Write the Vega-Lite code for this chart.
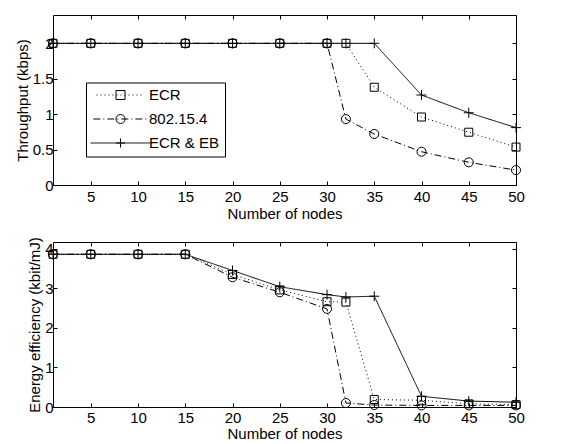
{
  "$schema": "https://vega.github.io/schema/vega-lite/v6.json",
  "padding": {"left": 14, "top": 14, "right": 10, "bottom": 5},
  "spacing": 14,
  "config": {
    "font": "Liberation Sans",
    "view": {"stroke": "black", "strokeWidth": 1},
    "axis": {
      "labelFontSize": 15, "titleFontSize": 15, "titleFontWeight": "normal",
      "labelColor": "black", "titleColor": "black", "tickColor": "black",
      "grid": false, "domain": false, "tickSize": -4, "format": "~g", "labelFlush": false
    }
  },
  "resolve": {
    "scale": {"strokeDash": "independent", "shape": "independent", "size": "independent"},
    "legend": {"strokeDash": "independent", "shape": "independent", "size": "independent"}
  },
  "datasets": {
    "tp": [
      {"x": 1, "y": 2, "series": "ECR"}, {"x": 5, "y": 2, "series": "ECR"}, {"x": 10, "y": 2, "series": "ECR"}, {"x": 15, "y": 2, "series": "ECR"}, {"x": 20, "y": 2, "series": "ECR"}, {"x": 25, "y": 2, "series": "ECR"}, {"x": 30, "y": 2, "series": "ECR"}, {"x": 32, "y": 2, "series": "ECR"}, {"x": 35, "y": 1.38, "series": "ECR"}, {"x": 40, "y": 0.96, "series": "ECR"}, {"x": 45, "y": 0.745, "series": "ECR"}, {"x": 50, "y": 0.535, "series": "ECR"},
      {"x": 1, "y": 2, "series": "802.15.4"}, {"x": 5, "y": 2, "series": "802.15.4"}, {"x": 10, "y": 2, "series": "802.15.4"}, {"x": 15, "y": 2, "series": "802.15.4"}, {"x": 20, "y": 2, "series": "802.15.4"}, {"x": 25, "y": 2, "series": "802.15.4"}, {"x": 30, "y": 2, "series": "802.15.4"}, {"x": 32, "y": 0.93, "series": "802.15.4"}, {"x": 35, "y": 0.72, "series": "802.15.4"}, {"x": 40, "y": 0.47, "series": "802.15.4"}, {"x": 45, "y": 0.32, "series": "802.15.4"}, {"x": 50, "y": 0.21, "series": "802.15.4"},
      {"x": 1, "y": 2, "series": "ECR & EB"}, {"x": 5, "y": 2, "series": "ECR & EB"}, {"x": 10, "y": 2, "series": "ECR & EB"}, {"x": 15, "y": 2, "series": "ECR & EB"}, {"x": 20, "y": 2, "series": "ECR & EB"}, {"x": 25, "y": 2, "series": "ECR & EB"}, {"x": 30, "y": 2, "series": "ECR & EB"}, {"x": 32, "y": 2, "series": "ECR & EB"}, {"x": 35, "y": 2, "series": "ECR & EB"}, {"x": 40, "y": 1.27, "series": "ECR & EB"}, {"x": 45, "y": 1.02, "series": "ECR & EB"}, {"x": 50, "y": 0.81, "series": "ECR & EB"}
    ],
    "ee": [
      {"x": 1, "y": 3.86, "series": "ECR"}, {"x": 5, "y": 3.86, "series": "ECR"}, {"x": 10, "y": 3.86, "series": "ECR"}, {"x": 15, "y": 3.86, "series": "ECR"}, {"x": 20, "y": 3.35, "series": "ECR"}, {"x": 25, "y": 2.96, "series": "ECR"}, {"x": 30, "y": 2.66, "series": "ECR"}, {"x": 32, "y": 2.65, "series": "ECR"}, {"x": 35, "y": 0.19, "series": "ECR"}, {"x": 40, "y": 0.17, "series": "ECR"}, {"x": 45, "y": 0.08, "series": "ECR"}, {"x": 50, "y": 0.06, "series": "ECR"},
      {"x": 1, "y": 3.86, "series": "802.15.4"}, {"x": 5, "y": 3.86, "series": "802.15.4"}, {"x": 10, "y": 3.86, "series": "802.15.4"}, {"x": 15, "y": 3.86, "series": "802.15.4"}, {"x": 20, "y": 3.28, "series": "802.15.4"}, {"x": 25, "y": 2.9, "series": "802.15.4"}, {"x": 30, "y": 2.48, "series": "802.15.4"}, {"x": 32, "y": 0.1, "series": "802.15.4"}, {"x": 35, "y": 0.05, "series": "802.15.4"}, {"x": 40, "y": 0.04, "series": "802.15.4"}, {"x": 45, "y": 0.04, "series": "802.15.4"}, {"x": 50, "y": 0.04, "series": "802.15.4"},
      {"x": 1, "y": 3.86, "series": "ECR & EB"}, {"x": 5, "y": 3.86, "series": "ECR & EB"}, {"x": 10, "y": 3.86, "series": "ECR & EB"}, {"x": 15, "y": 3.86, "series": "ECR & EB"}, {"x": 20, "y": 3.45, "series": "ECR & EB"}, {"x": 25, "y": 3.04, "series": "ECR & EB"}, {"x": 30, "y": 2.84, "series": "ECR & EB"}, {"x": 32, "y": 2.78, "series": "ECR & EB"}, {"x": 35, "y": 2.8, "series": "ECR & EB"}, {"x": 40, "y": 0.27, "series": "ECR & EB"}, {"x": 45, "y": 0.15, "series": "ECR & EB"}, {"x": 50, "y": 0.12, "series": "ECR & EB"}
    ]
  },
  "vconcat": [
    {
      "width": 463, "height": 170,
      "data": {"name": "tp"},
      "resolve": {"axis": {"x": "independent", "y": "independent"}},
      "layer": [
        {
          "mark": {"type": "line", "color": "black", "strokeWidth": 1},
          "encoding": {
            "x": {"field": "x", "type": "quantitative", "scale": {"domain": [1, 50], "nice": false, "zero": false},
                  "axis": {"values": [5, 10, 15, 20, 25, 30, 35, 40, 45, 50], "title": "Number of nodes", "labelPadding": 8, "titlePadding": 2}},
            "y": {"field": "y", "type": "quantitative", "scale": {"domain": [0, 2.4], "nice": false},
                  "axis": {"values": [0, 0.5, 1, 1.5, 2], "title": "Throughput (kbps)", "labelPadding": 4, "titlePadding": 2}},
            "strokeDash": {"field": "series", "type": "nominal",
              "scale": {"domain": ["ECR", "802.15.4", "ECR & EB"], "range": [[1, 3], [7, 3, 1, 3], [1, 0]]},
              "legend": {"orient": "none", "legendX": 33, "legendY": 67.5, "title": null,
                "symbolType": "M-6,0H6", "symbolSize": 81, "symbolOffset": 22, "labelOffset": 21,
                "labelFontSize": 15, "labelColor": "black", "labelLimit": 300, "padding": 5, "rowPadding": 8,
                "strokeColor": "black", "symbolStrokeColor": "black", "symbolStrokeWidth": 1}}
          }
        },
        {
          "mark": {"type": "point", "filled": false, "color": "black", "strokeWidth": 1, "opacity": 1},
          "encoding": {
            "x": {"field": "x", "type": "quantitative", "scale": {"domain": [1, 50], "nice": false, "zero": false},
                  "axis": {"orient": "top", "values": [5, 10, 15, 20, 25, 30, 35, 40, 45, 50], "labels": false, "title": null}},
            "y": {"field": "y", "type": "quantitative", "scale": {"domain": [0, 2.4], "nice": false},
                  "axis": {"orient": "right", "values": [0, 0.5, 1, 1.5, 2], "labels": false, "title": null}},
            "shape": {"field": "series", "type": "nominal", "sort": ["ECR", "802.15.4", "ECR & EB"],
              "scale": {"range": ["square", "circle", "M-1,0H1M0,-1V1"]},
              "legend": {"orient": "none", "legendX": 33, "legendY": 67.5, "title": null,
                "symbolSize": 81, "symbolOffset": 22, "labelOffset": 21,
                "labelFontSize": 15, "labelOpacity": 0, "labelLimit": 300, "padding": 5, "rowPadding": 8,
                "symbolStrokeColor": "black", "symbolFillColor": "transparent", "symbolStrokeWidth": 1}},
            "size": {"field": "series", "type": "nominal", "scale": {"domain": ["ECR", "802.15.4", "ECR & EB"], "range": [64, 100, 100]}, "legend": null}
          }
        }
      ]
    },
    {
      "width": 463, "height": 165,
      "data": {"name": "ee"},
      "resolve": {"axis": {"x": "independent", "y": "independent"}},
      "layer": [
        {
          "mark": {"type": "line", "color": "black", "strokeWidth": 1},
          "encoding": {
            "x": {"field": "x", "type": "quantitative", "scale": {"domain": [1, 50], "nice": false, "zero": false},
                  "axis": {"values": [5, 10, 15, 20, 25, 30, 35, 40, 45, 50], "title": "Number of nodes", "labelPadding": 7, "titlePadding": 1}},
            "y": {"field": "y", "type": "quantitative", "scale": {"domain": [0, 4.17], "nice": false},
                  "axis": {"values": [0, 1, 2, 3, 4], "title": "Energy efficiency (kbit/mJ)", "labelPadding": 4, "titlePadding": 2}},
            "strokeDash": {"field": "series", "type": "nominal",
              "scale": {"domain": ["ECR", "802.15.4", "ECR & EB"], "range": [[1, 3], [7, 3, 1, 3], [1, 0]]},
              "legend": null}
          }
        },
        {
          "mark": {"type": "point", "filled": false, "color": "black", "strokeWidth": 1, "opacity": 1},
          "encoding": {
            "x": {"field": "x", "type": "quantitative", "scale": {"domain": [1, 50], "nice": false, "zero": false},
                  "axis": {"orient": "top", "values": [5, 10, 15, 20, 25, 30, 35, 40, 45, 50], "labels": false, "title": null}},
            "y": {"field": "y", "type": "quantitative", "scale": {"domain": [0, 4.17], "nice": false},
                  "axis": {"orient": "right", "values": [0, 1, 2, 3, 4], "labels": false, "title": null}},
            "shape": {"field": "series", "type": "nominal", "sort": ["ECR", "802.15.4", "ECR & EB"],
              "scale": {"range": ["square", "circle", "M-1,0H1M0,-1V1"]}, "legend": null},
            "size": {"field": "series", "type": "nominal", "scale": {"domain": ["ECR", "802.15.4", "ECR & EB"], "range": [64, 100, 100]}, "legend": null}
          }
        }
      ]
    }
  ]
}
